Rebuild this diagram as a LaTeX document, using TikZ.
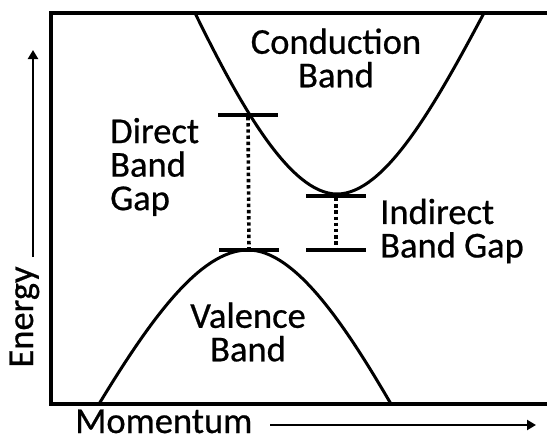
\documentclass[tikz,border=0pt]{standalone}
\usepackage{fontspec}
\setmainfont{Carlito}[FakeBold=0.6]
\usepackage{tikz}
\usetikzlibrary{arrows.meta}

\begin{document}
\begin{tikzpicture}[x=1pt, y=-1pt, >={Triangle[length=9pt,width=10pt]},
      font=\fontsize{36.5}{33.5}\selectfont,
      frame/.style={line width=3.4pt},
      band/.style={line width=3pt},
      bar/.style={fill=black, inner sep=0pt, minimum width=60pt, minimum height=3.4pt},
      gapline/.style={line width=3.6pt, dash pattern=on 3.4pt off 2.8pt},
      axis/.style={line width=2.8pt, ->},
      lbl/.style={inner sep=0pt, align=center}]
      \useasboundingbox (0,0) rectangle (547,437);
      % frame of the plot
      \draw[frame] (547,13) -- (51,13) -- (51,404) -- (547,404);
      % bands
      \coordinate (cbL)   at (195,13);
      \coordinate (cbmin) at (337,194);
      \coordinate (cbR)   at (484,13);
      \coordinate (vbL)   at (99,404);
      \coordinate (vbtop) at (248,250);
      \coordinate (vbR)   at (391,404);
      \draw[band] (cbL) .. controls +(45,92) and +(-47,0) .. (cbmin)
                        .. controls +(48,0) and +(-49,92) .. (cbR);
      \draw[band] (vbL) .. controls +(51,-84) and +(-48,0) .. (vbtop)
                        .. controls +(47,0) and +(-46,-79) .. (vbR);
      % gap levels
      \node[bar] (dtop) at (248,115) {};
      \node[bar] (dbot) at (249,250) {};
      \node[bar] (itop) at (336,196) {};
      \node[bar] (ibot) at (336,250) {};
      \draw[gapline] (dtop) -- (dbot);
      \draw[gapline] (itop) -- (ibot);
      % labels
      \node[lbl] (cond)  at (336,58)  {Conduction\\Band};
      \node[lbl] (val)   at (248,332) {Valence\\Band};
      \node[lbl, align=left, anchor=west] (dgap) at (110,167) {Direct\\Band\\Gap};
      \node[lbl, align=left, anchor=west] (igap) at (380,231) {Indirect\\Band Gap};
      % axes
      \node[inner sep=0pt, rotate=90, anchor=base] (energy) at (33,317) {Energy};
      \node[inner sep=0pt, text depth=0pt, anchor=base west] (mom) at (75,433) {Momentum};
      \coordinate (etail) at (33,257);
      \coordinate (etip)  at (33,50);
      \coordinate (mtail) at (270,425);
      \coordinate (mtip)  at (536,425);
      \draw[axis] (etail) -- (etip);
      \draw[axis] (mtail) -- (mtip);
\end{tikzpicture}
\end{document}
